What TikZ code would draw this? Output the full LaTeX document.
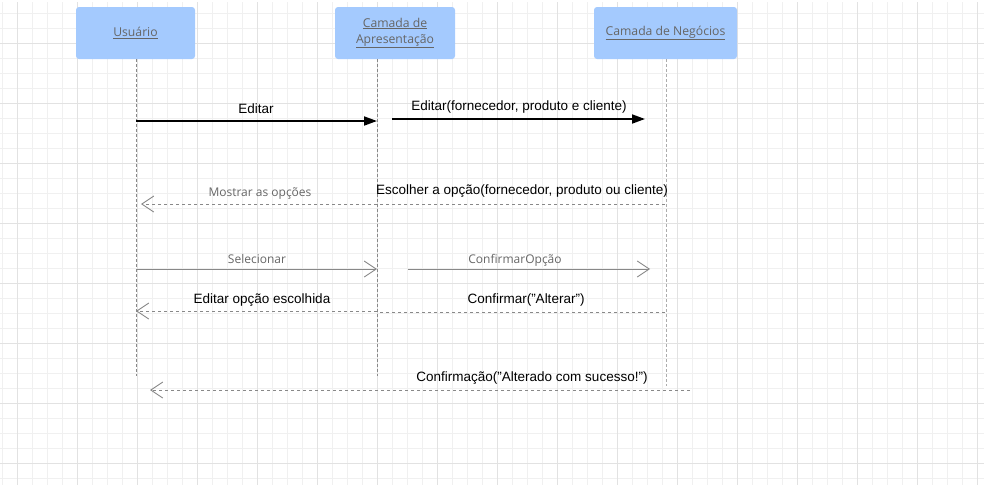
\documentclass[tikz,border=0pt]{standalone}
\usepackage{fontspec}
\setmainfont{Liberation Sans}
\newfontfamily\uifont{Open Sans}
\usepackage{xcolor}
\usetikzlibrary{arrows.meta}
\definecolor{gridminor}{HTML}{F0F0F0}
\definecolor{gridmajor}{HTML}{E2E2E2}
\definecolor{boxblue}{HTML}{A4CAFE}
\definecolor{uigrey}{HTML}{666666}
\definecolor{linegrey}{HTML}{888888}

\begin{document}
\begin{tikzpicture}[x=1pt,y=-1pt,
  actor/.style={fill=boxblue,rounded corners=3pt,minimum height=52pt,inner sep=0pt,
    align=center,text=uigrey,font=\uifont\fontsize{12.2}{16}\selectfont},
  lifeline/.style={draw=linegrey,dash pattern=on 3pt off 2pt,line width=0.8pt},
  call/.style={line width=1.8pt,-{Triangle[length=13pt,width=9pt]}},
  msg/.style={draw=linegrey,line width=0.9pt,-{Straight Barb[length=12pt,width=16pt]}},
  reply/.style={draw=linegrey,dash pattern=on 3pt off 3pt,line width=0.9pt},
  replyto/.style={reply,-{Straight Barb[length=12pt,width=16pt]}},
  lbl/.style={anchor=base,inner sep=0pt,font=\fontsize{13.5}{15}\selectfont},
  glbl/.style={lbl,text=uigrey,font=\uifont\fontsize{12}{14}\selectfont}]
\useasboundingbox (0,0) rectangle (984,485);
% grid
\foreach \x in {2,17,...,977}
            \draw[gridminor,line width=0.9pt] (\x,2) -- (\x,485);
\foreach \y in {13,28,...,478}
            \draw[gridminor,line width=0.9pt] (0,\y) -- (984,\y);
\foreach \x in {17,77,...,977}
            \draw[gridmajor,line width=1pt] (\x,2) -- (\x,485);
\foreach \y in {43,103,...,463}
            \draw[gridmajor,line width=1pt] (0,\y) -- (984,\y);
% actors
\node[actor,minimum width=119pt] (usr) at (135.5,33) {\underline{Usuário}};
\node[actor,minimum width=120pt] (apr) at (395,33) {\underline{Camada de}\\\underline{Apresentação}};
\node[actor,minimum width=143pt] (neg) at (665.5,33) {\underline{Camada de Negócios}};
% lifelines
\coordinate (usrend) at (136,376);
\coordinate (aprend) at (377,376);
\coordinate (negend) at (666,386);
\draw[lifeline] (usr.south -| usrend) -- (usrend);
\draw[lifeline] (apr.south -| aprend) -- (aprend);
\draw[lifeline,draw=linegrey!70] (neg.south -| negend) -- (negend);
% messages
\coordinate (m1a) at (136,121); \coordinate (m1b) at (377,121);
\coordinate (m2a) at (392,119); \coordinate (m2b) at (645,119);
\coordinate (m3a) at (665,204); \coordinate (m3b) at (377,204); \coordinate (m3c) at (141,204);
\coordinate (m4a) at (137,269); \coordinate (m4b) at (377,269);
\coordinate (m5a) at (408,269); \coordinate (m5b) at (650,269);
\coordinate (m6a) at (377,311); \coordinate (m6b) at (136,311);
\coordinate (m7a) at (665,312); \coordinate (m7b) at (377,312);
\coordinate (m8a) at (690,390); \coordinate (m8b) at (150,390);
\draw[call] (m1a) -- (m1b);
\draw[call] (m2a) -- (m2b);
\draw[reply] (m3a) -- (m3b);
\draw[replyto] (m3b) -- (m3c);
\draw[msg] (m4a) -- (m4b);
\draw[msg] (m5a) -- (m5b);
\draw[replyto] (m6a) -- (m6b);
\draw[reply] (m7a) -- (m7b);
\draw[replyto] (m8a) -- (m8b);
% labels
\node[lbl] (editar) at (256,113) {Editar};
\node[lbl] (editarforn) at (519,110) {Editar(fornecedor, produto e cliente)};
\node[glbl] (mostrar) at (260,196) {Mostrar as opções};
\node[lbl] (escolher) at (522,194) {Escolher a opção(fornecedor, produto ou cliente)};
\node[glbl] (selecionar) at (257,263) {Selecionar};
\node[glbl] (confopcao) at (515,263) {ConfirmarOpção};
\node[lbl] (editaropcao) at (262,303) {Editar opção escolhida};
\node[lbl] (confirmar) at (526,303) {Confirmar("Alterar")};
\node[lbl] (confirmacao) at (532,381) {Confirmação("Alterado com sucesso!")};
\end{tikzpicture}
\end{document}
